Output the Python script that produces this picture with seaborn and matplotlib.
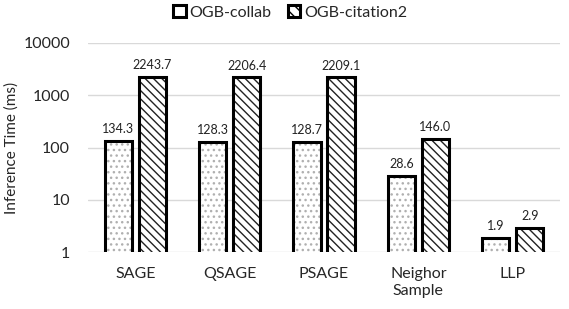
import pandas as pd
import matplotlib.pyplot as plt
import matplotlib.patches as mpatches
import seaborn as sns

# data
methods = ["SAGE", "QSAGE", "PSAGE", "Neighor\nSample", "LLP"]
collab = [134.3, 128.3, 128.7, 28.6, 1.9]
citation2 = [2243.7, 2206.4, 2209.1, 146.0, 2.9]
datasets = ["OGB-collab", "OGB-citation2"]

df = pd.DataFrame({
    "method": methods * 2,
    "dataset": [datasets[0]] * len(methods) + [datasets[1]] * len(methods),
    "time": collab + citation2,
})

sns.set_style("white")
plt.rcParams["font.family"] = ["Lato", "DejaVu Sans"]
plt.rcParams["hatch.linewidth"] = 1.0

fig = plt.figure(figsize=(5.69, 3.09), dpi=100)
ax = fig.add_axes([0.155, 0.184, 0.829, 0.677])

sns.barplot(data=df, x="method", y="time", hue="dataset", ax=ax,
            palette=["white", "white"], width=0.72, gap=0.2,
            linewidth=0, legend=False)
ax.set_yscale("log")
ax.set_ylim(1, 10000)

hatches = ["...", "\\\\\\\\"]
hcolors = ["#b0b0b0", "#222222"]
for cont, h, hc, vals in zip(ax.containers, hatches, hcolors, [collab, citation2]):
    for p in cont:
        p.set_hatch(h)
        p.set_edgecolor(hc)
        p.set_linewidth(0)
        b = p.get_bbox()
        ax.add_patch(mpatches.Rectangle((b.x0, b.y0), b.width, b.height,
                                        facecolor="none", edgecolor="black",
                                        linewidth=2.2, zorder=3))
    ax.bar_label(cont, labels=[f"{v:.1f}" for v in vals], padding=4,
                 fontsize=9, color="#222222")

ax.yaxis.grid(True, color="#d9d9d9", linewidth=1)
ax.set_axisbelow(True)
for s in ax.spines.values():
    s.set_visible(False)
ax.set_yticks([1, 10, 100, 1000, 10000])
ax.set_yticklabels(["1", "10", "100", "1000", "10000"])
ax.tick_params(axis="y", labelsize=11.5, length=0, pad=13)
ax.tick_params(axis="x", labelsize=11.5, length=0, pad=11)
ax.set_xlabel("")
ax.set_ylabel("Inference Time (ms)", fontsize=11)
ax.yaxis.set_label_coords(-0.148, 0.5)

handles = [mpatches.Patch(facecolor="white", edgecolor="black", linewidth=2.2, label=datasets[0]),
           mpatches.Patch(facecolor="white", edgecolor="black", hatch="\\\\\\", linewidth=2.2, label=datasets[1])]
fig.legend(handles=handles, loc="upper center", bbox_to_anchor=(0.51, 1.03), ncol=2,
           frameon=False, fontsize=11.5, handlelength=0.8, handleheight=0.8,
           handletextpad=0.25, columnspacing=1.0)

fig.savefig("out.png", dpi=100)
